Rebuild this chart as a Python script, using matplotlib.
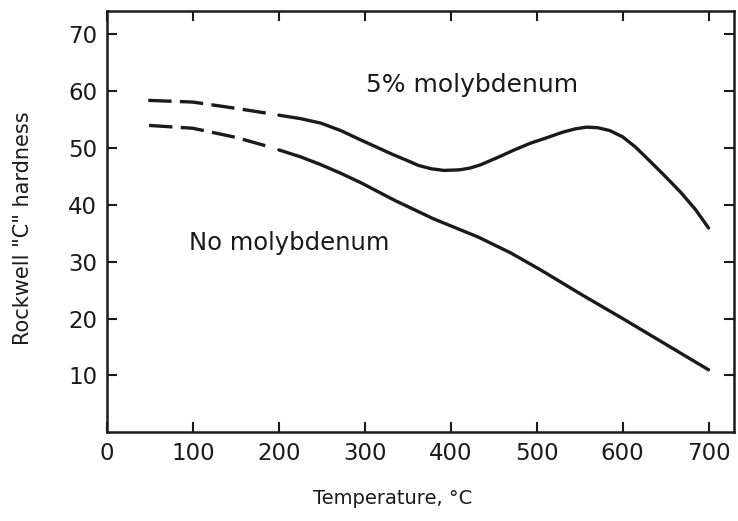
import matplotlib.pyplot as plt

# 5% molybdenum curve (dashed part = extrapolated region)
mo_dash_x = [48, 100, 150, 188]
mo_dash_y = [58.3, 58.0, 56.9, 56.0]
mo_x = [200, 225, 249, 272, 296, 315, 334, 350, 362, 377, 392, 410, 422, 435,
        455, 474, 493, 513, 530, 545, 558, 571, 585, 600, 615, 630, 650, 668,
        685, 700]
mo_y = [55.7, 55.1, 54.3, 53.0, 51.3, 50.0, 48.7, 47.7, 46.9, 46.3, 46.0, 46.1,
        46.4, 47.0, 48.3, 49.6, 50.8, 51.8, 52.7, 53.3, 53.6, 53.5, 53.0, 51.9,
        50.1, 47.9, 44.9, 42.1, 39.1, 35.9]

# no molybdenum curve
plain_dash_x = [49, 100, 150, 190]
plain_dash_y = [53.9, 53.4, 51.8, 50.1]
plain_x = [200, 225, 249, 272, 296, 334, 380, 432, 470, 505, 550, 600, 650, 700]
plain_y = [49.6, 48.4, 47.0, 45.5, 43.8, 40.8, 37.5, 34.3, 31.5, 28.5, 24.4,
           20.0, 15.5, 11.0]

x_ticks = [0, 100, 200, 300, 400, 500, 600, 700]
y_ticks = [10, 20, 30, 40, 50, 60, 70]


def main():
    fig = plt.figure(figsize=(7.38, 5.21), dpi=100)
    ax = fig.add_axes([0.145, 0.170, 0.850, 0.809])

    lc = '#1a1a1a'
    lw = 2.4
    ax.plot(mo_dash_x, mo_dash_y, color=lc, lw=lw, dashes=(7, 2.5))
    ax.plot(mo_x, mo_y, color=lc, lw=lw, solid_capstyle='round',
            solid_joinstyle='round')
    ax.plot(plain_dash_x, plain_dash_y, color=lc, lw=lw, dashes=(7, 2.5))
    ax.plot(plain_x, plain_y, color=lc, lw=lw, solid_capstyle='round',
            solid_joinstyle='round')

    ax.text(301, 61, '5% molybdenum', fontsize=18, va='center', color=lc)
    ax.text(95, 33.2, 'No molybdenum', fontsize=17.5, va='center', color=lc)

    ax.set_xlim(0, 730)
    ax.set_ylim(0, 74)
    ax.set_xticks(x_ticks)
    ax.set_yticks(y_ticks)
    ax.tick_params(direction='in', length=7, width=1.5, top=True, right=True,
                   labelsize=16.5, colors=lc, pad=7)
    for s in ax.spines.values():
        s.set_linewidth(1.8)
        s.set_color(lc)

    ax.set_xlabel('Temperature, °C', fontsize=14, color=lc)
    ax.set_ylabel('Rockwell "C" hardness', fontsize=15, color=lc)
    ax.xaxis.set_label_coords(0.456, -0.134)
    ax.yaxis.set_label_coords(-0.118, 0.485)

    fig.savefig('out.png', dpi=100)


if __name__ == "__main__":
    main()
